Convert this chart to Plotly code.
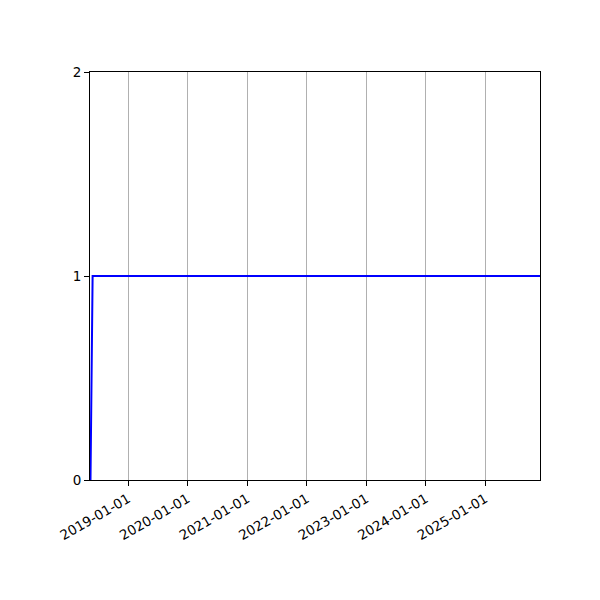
import plotly.graph_objects as go

# data
dates = ["2018-05-15", "2018-05-28", "2025-12-02"]
values = [0, 1, 1]
tick_dates = ["2019-01-01", "2020-01-01", "2021-01-01", "2022-01-01",
              "2023-01-01", "2024-01-01", "2025-01-01"]
y_ticks = [0, 1, 2]

fig = go.Figure()
fig.add_trace(go.Scatter(x=dates, y=values, mode="lines",
                         line=dict(color="blue", width=2), showlegend=False))

# page body adds ~8px, so margins are shifted to line up with the reference
fig.update_layout(
    width=600, height=600,
    margin=dict(l=82, r=68, t=64, b=128),
    plot_bgcolor="white", paper_bgcolor="white",
    font=dict(family="DejaVu Sans", size=13.5, color="black"),
    xaxis=dict(range=["2018-05-12", "2025-12-02"], tickvals=tick_dates, ticktext=tick_dates,
               tickangle=-30, showgrid=True, gridcolor="#b0b0b0", gridwidth=1,
               showline=True, linecolor="black", linewidth=1, mirror=True,
               ticks="outside", ticklen=5, tickcolor="black", zeroline=False),
    yaxis=dict(range=[0, 2], tickvals=y_ticks, showgrid=False,
               showline=True, linecolor="black", linewidth=1, mirror=True,
               ticks="outside", ticklen=5, tickcolor="black", zeroline=False),
)

fig.write_html("out.html")
